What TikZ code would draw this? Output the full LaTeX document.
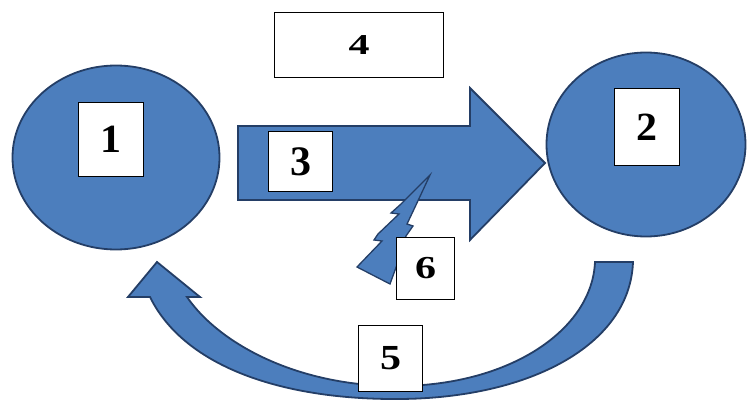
\documentclass[tikz,border=0pt]{standalone}
\usepackage{fontspec}
\setmainfont{Liberation Serif}
\usetikzlibrary{shapes.geometric}
\definecolor{bfill}{RGB}{76,126,189}
\definecolor{bline}{RGB}{36,62,102}
\newcommand{\dg}[2]{\scalebox{1.05}[#1]{#2}}
\tikzset{
  blob/.style={ellipse, fill=bfill, draw=bline, line width=1.8pt, inner sep=0pt},
  shp/.style={fill=bfill, draw=bline, line width=1.8pt, line join=miter},
  lbl/.style={rectangle, fill=white, draw=black, line width=1.5pt, inner sep=0pt,
    font=\fontsize{40}{40}\selectfont\bfseries}
}
\begin{document}
\begin{tikzpicture}[x=1pt,y=-1pt]
\useasboundingbox (0,0) rectangle (747,401);
% circles
\node[blob, minimum width=207pt, minimum height=184pt] (c1) at (116,157.5) {};
\node[blob, minimum width=199pt, minimum height=184pt] (c2) at (646,144.5) {};
% big arrow (3)
\draw[shp] (238,126) -- (470,126) -- (470,88) -- (545,163) -- (470,240) -- (470,200) -- (238,200) -- cycle;
% lightning bolt (6)
\draw[shp, line width=1.3pt] (430,175) -- (401,204) -- (391,213) -- (399,214) -- (378,234) -- (374,240)
  -- (382,241) -- (357,267) -- (390,284) -- (398,262) -- (406,236) -- (413,226) -- (407,224) -- (416,205) -- cycle;
% curved arrow (5)
\draw[shp] (633,262) .. controls (630,345) and (530,398) .. (400,399)
  .. controls (285,400) and (185,368) .. (150,297)
  -- (128,297) -- (157,262) -- (200,297) -- (187,297)
  .. controls (220,345) and (300,387) .. (400,386)
  .. controls (510,385) and (592,330) .. (595,262) -- cycle;
% label boxes
\node[lbl, minimum width=65pt, minimum height=74pt] (b1) at (111,139.5) {\dg{1.0}{1}};
\node[lbl, minimum width=65pt, minimum height=77pt] (b2) at (647,127) {\dg{1.0}{2}};
\node[lbl, minimum width=64pt, minimum height=60pt] (b3) at (300.5,161.5) {\dg{1.05}{3}};
\node[lbl, minimum width=169pt, minimum height=65pt] (b4) at (359,45) {\dg{0.72}{4}};
\node[lbl, minimum width=58pt, minimum height=62pt] (b6) at (425.5,268.5) {\dg{0.8}{6}};
\node[lbl, minimum width=64pt, minimum height=66pt] (b5) at (390.5,358.5) {\dg{0.88}{5}};
\end{tikzpicture}
\end{document}
